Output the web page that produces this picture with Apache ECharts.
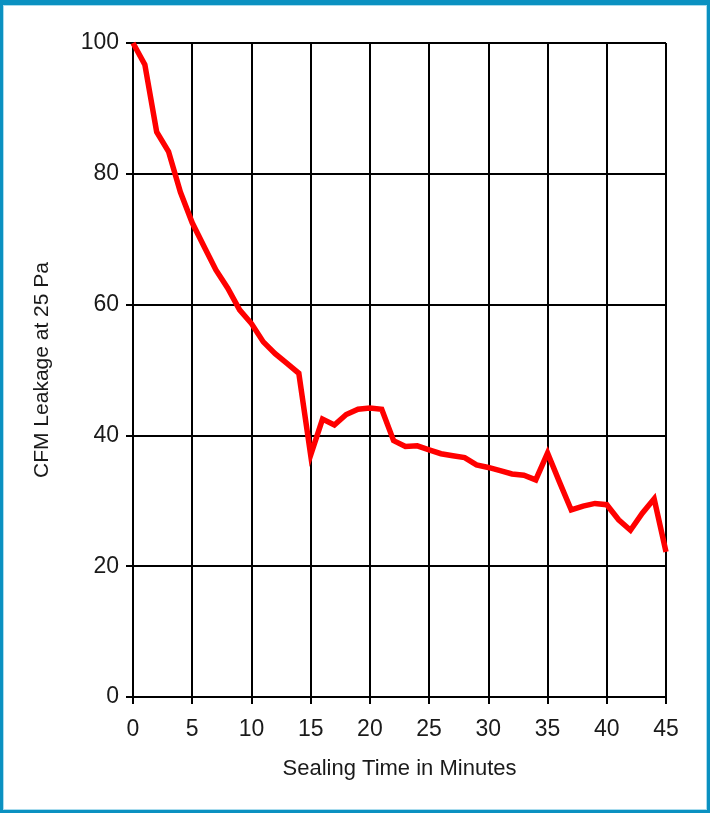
<!DOCTYPE html>
<html>
<head>
<meta charset="utf-8">
<script src="https://cdn.jsdelivr.net/npm/echarts@6/dist/echarts.min.js"></script>
<style>
html,body{margin:0;padding:0;background:#fff;}
#chart{position:absolute;left:0;top:0;width:710px;height:813px;}
#frame{position:absolute;left:0;top:0;width:710px;height:813px;box-sizing:border-box;
  border-style:solid;border-color:#0a91c1;border-width:5px 3px 3px 3px;pointer-events:none;}
#inner{position:absolute;left:0;top:0;right:0;bottom:0;border:1px solid #a9dcee;}
</style>
</head>
<body>
<div id="chart"></div>
<div id="frame"><div id="inner"></div></div>
<script>
var minutes = [0,1,2,3,4,5,6,7,8,9,10,11,12,13,14,15,16,17,18,19,20,21,22,23,24,25,26,27,28,29,30,31,32,33,34,35,36,37,38,39,40,41,42,43,44,45];
var cfm = [100,96.7,86.4,83.4,77.2,72.5,68.9,65.3,62.5,59.2,57.1,54.3,52.5,51.0,49.5,37.0,42.5,41.6,43.2,44.0,44.2,44.0,39.2,38.3,38.4,37.8,37.2,36.9,36.6,35.5,35.1,34.6,34.1,33.9,33.2,37.3,32.9,28.6,29.2,29.6,29.4,27.1,25.5,28.1,30.3,22.2];
var xTitle = 'Sealing Time in Minutes';
var yTitle = 'CFM Leakage at 25 Pa';

var font = 'Liberation Sans, Arial, sans-serif';
var chart = echarts.init(document.getElementById('chart'), null, {renderer:'canvas'});
chart.setOption({
  animation:false,
  backgroundColor:'#fff',
  grid:{left:133, top:43, right:44, bottom:116, containLabel:false},
  xAxis:{
    type:'value', min:0, max:45, interval:5,
    name:xTitle, nameLocation:'middle', nameGap:61,
    nameTextStyle:{fontFamily:font, fontSize:22, color:'#1a1a1a'},
    axisLine:{show:true, lineStyle:{color:'#000', width:2}},
    axisTick:{show:true, inside:false, length:7, lineStyle:{color:'#000', width:2}},
    axisLabel:{fontFamily:font, fontSize:23, color:'#1a1a1a', margin:21},
    splitLine:{show:true, lineStyle:{color:'#000', width:2}}
  },
  yAxis:{
    type:'value', min:0, max:100, interval:20,
    name:yTitle, nameLocation:'middle', nameGap:80, nameRotate:90,
    nameTextStyle:{fontFamily:font, fontSize:21, color:'#1a1a1a'},
    axisLine:{show:true, lineStyle:{color:'#000', width:2}},
    axisTick:{show:true, inside:false, length:7, lineStyle:{color:'#000', width:2}},
    axisLabel:{fontFamily:font, fontSize:23, color:'#1a1a1a', margin:14},
    splitLine:{show:true, lineStyle:{color:'#000', width:2}}
  },
  series:[{
    type:'line',
    data:minutes.map(function(m,i){return [m, cfm[i]];}),
    showSymbol:false, symbol:'none',
    lineStyle:{color:'#ff0000', width:5.5, join:'miter'},
    z:5
  }]
});
</script>
</body>
</html>
